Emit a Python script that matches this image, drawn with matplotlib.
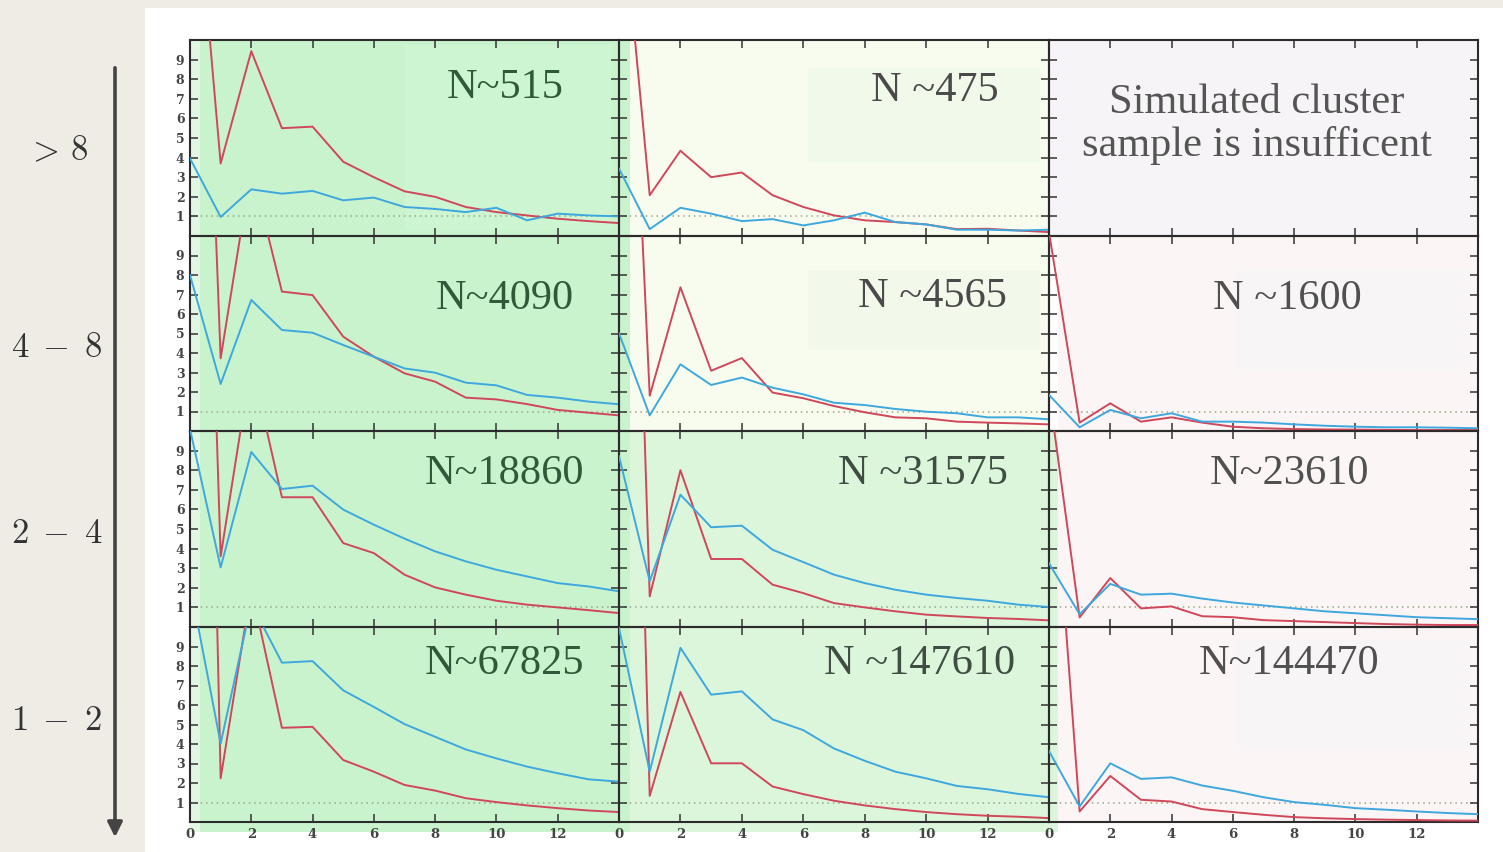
import matplotlib
matplotlib.use("Agg")
import matplotlib.pyplot as plt
from matplotlib.patches import Rectangle, FancyArrowPatch

plt.rcParams['mathtext.fontset'] = 'cm'

# ---------------- data ----------------
x_vals = list(range(15))
row_labels = [r'$>\,8$', r'$4\;-\;8$', r'$2\;-\;4$', r'$1\;-\;2$']
x_tick_vals = [0, 2, 4, 6, 8, 10, 12]
y_tick_vals = [1, 2, 3, 4, 5, 6, 7, 8, 9]

n_labels = [
    ["N~515", "N ~475", "Simulated cluster\nsample is insufficent"],
    ["N~4090", "N ~4565", "N ~1600"],
    ["N~18860", "N ~31575", "N~23610"],
    ["N~67825", "N ~147610", "N~144470"],
]

red_r0c0 = [21.7, 3.7, 9.43, 5.5, 5.58, 3.79, 3.0, 2.28, 2.0, 1.48, 1.22, 1.05, 0.88, 0.76, 0.66]
blue_r0c0 = [3.96, 0.97, 2.38, 2.16, 2.3, 1.82, 1.96, 1.48, 1.38, 1.22, 1.44, 0.8, 1.14, 1.05, 1.0]
red_r0c1 = [18.6, 2.08, 4.35, 3.0, 3.24, 2.08, 1.48, 1.05, 0.8, 0.71, 0.59, 0.35, 0.37, 0.28, 0.2]
blue_r0c1 = [3.44, 0.35, 1.44, 1.14, 0.76, 0.86, 0.54, 0.8, 1.19, 0.71, 0.59, 0.32, 0.32, 0.28, 0.32]

red_r1c0 = [45, 3.73, 13.5, 7.15, 6.97, 4.84, 3.81, 2.96, 2.53, 1.71, 1.62, 1.38, 1.08, 0.94, 0.8]
blue_r1c0 = [8.0, 2.41, 6.72, 5.18, 5.04, 4.41, 3.81, 3.21, 2.99, 2.48, 2.34, 1.85, 1.71, 1.51, 1.37]
red_r1c1 = [36, 1.81, 7.37, 3.09, 3.74, 1.97, 1.68, 1.28, 0.96, 0.7, 0.65, 0.48, 0.43, 0.39, 0.34]
blue_r1c1 = [5.01, 0.8, 3.42, 2.36, 2.74, 2.22, 1.88, 1.45, 1.33, 1.13, 0.99, 0.91, 0.7, 0.7, 0.6]
red_r1c2 = [10.2, 0.43, 1.42, 0.48, 0.7, 0.43, 0.22, 0.14, 0.1, 0.08, 0.07, 0.06, 0.05, 0.05, 0.05]
blue_r1c2 = [1.85, 0.19, 1.08, 0.65, 0.91, 0.48, 0.48, 0.43, 0.34, 0.27, 0.22, 0.19, 0.19, 0.17, 0.14]

red_r2c0 = [53, 3.6, 13.5, 6.62, 6.62, 4.28, 3.77, 2.67, 2.02, 1.65, 1.34, 1.14, 1.0, 0.86, 0.71]
blue_r2c0 = [10.1, 3.04, 8.93, 7.04, 7.21, 5.99, 5.22, 4.51, 3.86, 3.35, 2.92, 2.58, 2.24, 2.07, 1.82]
red_r2c1 = [51, 1.56, 8.0, 3.47, 3.47, 2.16, 1.73, 1.22, 1.0, 0.8, 0.63, 0.54, 0.46, 0.41, 0.34]
blue_r2c1 = [8.71, 2.33, 6.75, 5.09, 5.17, 3.94, 3.31, 2.67, 2.24, 1.9, 1.65, 1.48, 1.34, 1.14, 1.02]
red_r2c2 = [12, 0.49, 2.5, 0.95, 1.05, 0.55, 0.5, 0.35, 0.3, 0.25, 0.2, 0.15, 0.12, 0.1, 0.1]
blue_r2c2 = [3.25, 0.65, 2.2, 1.65, 1.7, 1.45, 1.25, 1.1, 0.95, 0.8, 0.7, 0.6, 0.5, 0.45, 0.4]

red_r3c0 = [72, 2.24, 12, 4.83, 4.88, 3.18, 2.58, 1.9, 1.61, 1.22, 1.02, 0.85, 0.71, 0.59, 0.51]
blue_r3c0 = [12.2, 4.03, 11.2, 8.17, 8.25, 6.75, 5.9, 5.02, 4.37, 3.72, 3.26, 2.84, 2.5, 2.19, 2.07]
red_r3c1 = [59, 1.34, 6.67, 3.01, 3.01, 1.82, 1.43, 1.09, 0.85, 0.66, 0.51, 0.4, 0.32, 0.27, 0.2]
blue_r3c1 = [9.95, 2.58, 8.93, 6.53, 6.7, 5.26, 4.71, 3.77, 3.14, 2.58, 2.24, 1.85, 1.68, 1.44, 1.27]
red_r3c2 = [21.6, 0.54, 2.36, 1.14, 1.05, 0.66, 0.51, 0.37, 0.25, 0.19, 0.15, 0.12, 0.1, 0.08, 0.07]
blue_r3c2 = [3.64, 0.8, 3.01, 2.21, 2.29, 1.87, 1.6, 1.27, 1.02, 0.88, 0.71, 0.63, 0.54, 0.46, 0.4]

red_series = [
    [red_r0c0, red_r0c1, None],
    [red_r1c0, red_r1c1, red_r1c2],
    [red_r2c0, red_r2c1, red_r2c2],
    [red_r3c0, red_r3c1, red_r3c2],
]
blue_series = [
    [blue_r0c0, blue_r0c1, None],
    [blue_r1c0, blue_r1c1, blue_r1c2],
    [blue_r2c0, blue_r2c1, blue_r2c2],
    [blue_r3c0, blue_r3c1, blue_r3c2],
]

# ---------------- layout / styles ----------------
W, H = 1503, 852
fig = plt.figure(figsize=(W / 100, H / 100), dpi=100)
fig.patch.set_facecolor('#efece6')

def frect(x0, y0, x1, y1, color, z=-10):
    """rectangle given in pixel coordinates (top-left origin)"""
    r = Rectangle((x0 / W, 1 - y1 / H), (x1 - x0) / W, (y1 - y0) / H,
                  transform=fig.transFigure, facecolor=color, edgecolor='none',
                  zorder=z)
    fig.add_artist(r)

# white slide area
frect(145, 8, W, H, '#ffffff', z=-20)
# coloured panel backgrounds
frect(190, 40, 200, 832, '#e2f7e3', z=-9)
frect(200, 40, 630, 832, '#c9f3cd', z=-9)
frect(630, 40, 1049, 431, '#f8fcef', z=-9)
frect(630, 431, 1058, 832, '#dcf6dc', z=-9)
frect(1049, 40, 1478, 236, '#f6f4f6', z=-9)
frect(1058, 236, 1478, 822, '#fcf5f5', z=-9)
# subtle boxes behind the N labels
frect(405, 45, 612, 230, '#cdf5d1', z=-8)
frect(808, 68, 1040, 163, '#f1f9ea', z=-8)
frect(808, 270, 1040, 350, '#f2f9eb', z=-8)
frect(1235, 270, 1470, 370, '#f8f5f6', z=-8)
frect(1235, 640, 1470, 750, '#f8f5f6', z=-8)

col_edges = [190, 619, 1049, 1478]
row_edges = [40, 236, 431, 627, 822]

red_c = '#d0475a'
blue_c = '#3ea8de'

text_colors = [
    ['#2f5a38', '#4a4a4a', '#555555'],
    ['#2f5a38', '#4a4a4a', '#505050'],
    ['#2f5a38', '#3f4d42', '#505050'],
    ['#2f5a38', '#3f4d42', '#505050'],
]
text_pos = [
    [(0.734, 0.755), (0.735, 0.74), (0.485, 0.57)],
    [(0.734, 0.68), (0.73, 0.69), (0.555, 0.68)],
    [(0.734, 0.78), (0.707, 0.78), (0.56, 0.78)],
    [(0.734, 0.81), (0.698, 0.81), (0.56, 0.81)],
]

for r in range(4):
    for c in range(3):
        x0, x1 = col_edges[c], col_edges[c + 1]
        ytop, ybot = row_edges[r], row_edges[r + 1]
        ax = fig.add_axes([x0 / W, 1 - ybot / H, (x1 - x0) / W, (ybot - ytop) / H])
        ax.set_facecolor('none')
        ax.set_xlim(0, 14)
        ax.set_ylim(0, 10)
        ax.set_xticks(x_tick_vals)
        ax.set_yticks(y_tick_vals)
        ax.tick_params(direction='in', length=6, width=1.1, color='#333333',
                       top=True, right=True, labelcolor='#444444', pad=4)
        for sp in ax.spines.values():
            sp.set_color('#2b2b2b')
            sp.set_linewidth(1.5)
        if c != 0:
            ax.set_yticklabels([])
        else:
            for lab in ax.get_yticklabels():
                lab.set_family('DejaVu Serif')
                lab.set_fontweight('bold')
                lab.set_fontsize(9)
        if r != 3:
            ax.set_xticklabels([])
        else:
            for lab in ax.get_xticklabels():
                lab.set_family('DejaVu Serif')
                lab.set_fontweight('bold')
                lab.set_fontsize(9.5)

        rs = red_series[r][c]
        bs = blue_series[r][c]
        if rs is not None:
            ax.axhline(1, color='#98a888', lw=1.1, ls=(0, (1, 2.5)), zorder=1)
            ax.plot(x_vals, rs, color=red_c, lw=1.4, zorder=3)
            ax.plot(x_vals, bs, color=blue_c, lw=1.4, zorder=3)

        tx, ty = text_pos[r][c]
        ax.text(tx, ty, n_labels[r][c], transform=ax.transAxes, ha='center', va='center',
                family='Liberation Serif', fontsize=30.5,
                color=text_colors[r][c], linespacing=1.15, zorder=5)

# row labels
row_label_y = [150, 347, 533, 720]
for lab, yp in zip(row_labels, row_label_y):
    fig.text(57 / W, 1 - yp / H, lab, ha='center', va='center', fontsize=25, color='#333333')

# vertical arrow
fig.add_artist(FancyArrowPatch(
    (115 / W, 1 - 65 / H), (115 / W, 1 - 840 / H), transform=fig.transFigure,
    arrowstyle='-|>', mutation_scale=22, lw=2.6, color='#444444'))

fig.savefig('out.png', dpi=100, facecolor=fig.get_facecolor())
